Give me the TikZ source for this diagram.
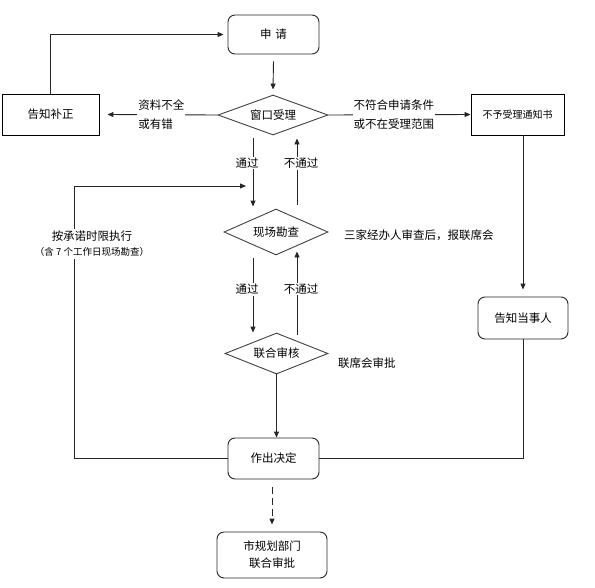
\documentclass[tikz,border=0pt]{standalone}
\usepackage{fontspec}
\newfontfamily\cjk{Noto Sans CJK SC}
\usetikzlibrary{shapes.geometric,arrows.meta}
\begin{document}
\begin{tikzpicture}[x=1pt,y=-1pt,
  every node/.style={font=\cjk\fontsize{11.5}{19}\selectfont, inner sep=1pt},
  rbox/.style={draw=black!85, line width=0.9pt, rounded corners=7pt, inner sep=0pt},
  sbox/.style={draw=black, line width=0.9pt, inner sep=0pt},
  dbox/.style={draw=black!75, line width=0.9pt, diamond, aspect=2.6, inner sep=0pt},
  arr/.style={draw=black!85, line width=0.9pt, -{Triangle[length=6pt,width=5pt]}},
  ln/.style={draw=black!85, line width=0.9pt},
  lbl/.style={fill=white, align=left, inner sep=1pt}]
\useasboundingbox (0,0) rectangle (595,587);
% nodes
\node[rbox, minimum width=91pt, minimum height=39pt] (shen) at (273.5,34.5) {申\,\,请};
\node[dbox, minimum width=110pt, minimum height=40pt] (chuang) at (273,115) {窗口受理};
\node[sbox, minimum width=97pt, minimum height=41pt] (buzheng) at (50.5,114.5) {告知补正};
\node[sbox, minimum width=93pt, minimum height=41pt, font=\cjk\fontsize{10}{12}\selectfont] (buyu) at (517.5,114.5) {不予受理通知书};
\node[rbox, minimum width=90pt, minimum height=42pt] (gaozhi) at (523,318) {告知当事人};
\node[dbox, minimum width=104pt, minimum height=46pt] (xianchang) at (276,232) {现场勘查};
\node[dbox, minimum width=103pt, minimum height=41pt] (lianhe) at (276.5,353.5) {联合审核};
\node[rbox, minimum width=91pt, minimum height=41pt] (zuochu) at (273.5,458.5) {作出决定};
\node[rbox, minimum width=110pt, minimum height=46pt, align=center, font=\cjk\fontsize{11.5}{17}\selectfont] (shi) at (272,555) {市规划部门\\联合审批};
% free text
\node[anchor=west] (sanjia) at (343,235) {三家经办人审查后，报联席会};
\node[anchor=west] (lianxi) at (337,363) {联席会审批};
% loop coordinates
\coordinate (lc) at (74,186);
\coordinate (lt) at (246,186);
% connectors
\draw[arr] ([yshift=-7pt]shen.south) -- ([yshift=5pt]chuang.north);
\draw[arr] (chuang.west) -- ([xshift=8pt]buzheng.east)
  node[lbl, pos=0.51] {资料不全\\或有错};
\draw[arr] (chuang.east) -- (buyu.west)
  node[lbl, pos=0.46] {不符合申请条件\\或不在受理范围};
\draw[arr] (buzheng.north) |- ([xshift=-4pt]shen.west);
\draw[arr] (gaozhi.north |- buyu.south) -- ([yshift=7pt]gaozhi.north);
\draw[arr] ([xshift=-20pt,yshift=-3pt]chuang.south) -- ([xshift=-23pt,yshift=2pt]xianchang.north)
  node[lbl, pos=0.36, xshift=-6pt] {通过};
\draw[arr] ([xshift=21pt,yshift=4pt]xianchang.north) -- ([xshift=24pt,yshift=-3pt]chuang.south)
  node[lbl, pos=0.62, xshift=4pt] {不通过};
\draw[arr] (zuochu.west) -| (lc) -- (lt);
\node[fill=white, align=center, inner sep=2pt] (cheng) at (92,244)
  {按承诺时限执行\\[-4pt]{\fontsize{9.5}{11}\selectfont （含 7 个工作日现场勘查）}};
\draw[arr] ([xshift=-23pt,yshift=-3pt]xianchang.south) -- ([xshift=-23.5pt]lianhe.north)
  node[lbl, pos=0.42, xshift=-6pt] {通过};
\draw[arr] ([xshift=20.5pt,yshift=-2pt]lianhe.north) -- ([xshift=21pt,yshift=4pt]xianchang.south)
  node[lbl, pos=0.55, xshift=4pt] {不通过};
\draw[arr] (lianhe.south) -- (lianhe.south |- zuochu.north);
\draw[ln] (zuochu.east) -| (gaozhi.south);
\draw[arr, dashed, dash pattern=on 7pt off 4pt] ([yshift=-8pt]zuochu.south -| shi.north) -- ([yshift=7pt]shi.north);
\end{tikzpicture}
\end{document}
